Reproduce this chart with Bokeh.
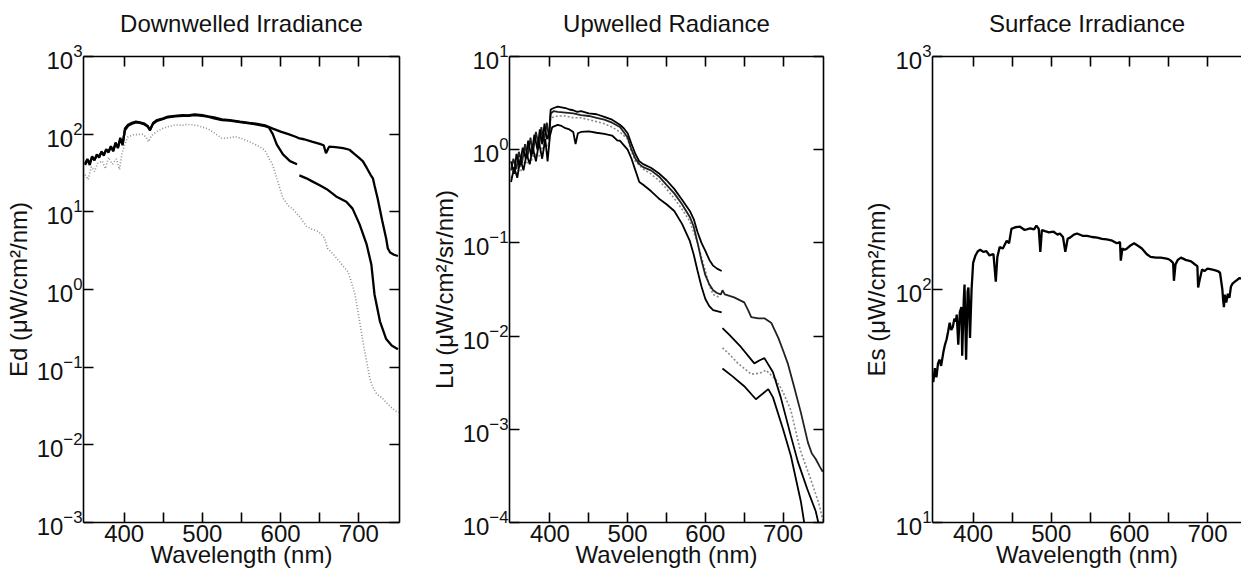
import numpy as np
from bokeh.plotting import figure
from bokeh.models import FixedTicker, LinearAxis, LogAxis
from bokeh.layouts import row
from bokeh.embed import file_html
from bokeh.resources import INLINE

nan = float("nan")

# ---------------- Panel 1: Downwelled irradiance Ed ----------------
ed_top_wl = [350, 353, 356, 359, 362, 365, 368, 371, 374, 377,
             380, 383, 386, 389, 392, 395, 398, 401, 405, 410,
             415, 420, 425, 430, 433, 437, 442, 450, 456, 465,
             475, 482, 490, 500, 507, 515, 525, 535, 548, 560,
             570, 580, 590, 600, 610, 620, 624, 630, 640, 650,
             655, 658, 662, 670, 680, 688, 695, 700, 705, 710,
             715, 718, 720, 724, 730, 735, 737, 740, 745, 750]
ed_top = [42, 48, 40, 52, 46, 55, 50, 60, 53, 64,
          58, 70, 60, 78, 66, 90, 72, 118, 132, 140,
          145, 142, 138, 128, 112, 140, 152, 160, 168, 172,
          176, 174, 180, 176, 170, 164, 155, 152, 145, 140,
          136, 130, 118, 108, 100, 92, 88, 86, 80, 75,
          72, 57, 69, 68, 66, 63, 55, 50, 45, 37,
          30, 27, 22, 15, 7.6, 4.5, 3.4, 3.0, 2.8, 2.7]

ed_mid_wl = [350, 353, 356, 359, 362, 365, 368, 371, 374, 377,
             380, 383, 386, 389, 392, 395, 398, 401, 405, 410,
             415, 420, 425, 430, 433, 437, 442, 450, 456, 465,
             475, 482, 490, 500, 507, 515, 525, 535, 548, 560,
             570, 580, 585, 590, 595, 603, 612, 621, 622.5, 624,
             633, 641, 650, 659, 671, 684, 692, 701, 710, 716,
             720, 727, 735, 742, 750]
ed_mid = [40, 46, 43, 50, 47, 53, 52, 58, 55, 62,
          60, 68, 62, 75, 68, 85, 75, 112, 128, 136,
          142, 140, 135, 125, 115, 136, 148, 157, 165, 170,
          172, 172, 176, 172, 168, 160, 152, 149, 143, 138,
          133, 127, 122, 100, 74, 55, 45, 41, nan, 29.5,
          27, 24.5, 22, 19.6, 15.8, 13.5, 11, 6.9, 3.8, 2.1,
          0.87, 0.39, 0.23, 0.19, 0.17]

ed_low_wl = [350, 354, 358, 362, 366, 372, 376, 380, 385, 390,
             394, 397, 400, 405, 412, 423, 428, 431, 435, 440,
             448, 456, 465, 475, 480, 487, 495, 507, 515, 525,
             535, 542, 550, 560, 573, 580, 586, 590, 595, 603,
             610, 616, 625, 633, 640, 648, 653, 656, 660, 668,
             675, 680, 686, 690, 695, 701, 707, 714, 718, 723,
             730, 735, 742, 748, 751]
ed_low = [30, 26, 38, 33, 42, 45, 36, 50, 41, 48,
          35, 55, 70, 93, 98, 100, 92, 80, 96, 105,
          117, 125, 132, 130, 134, 132, 128, 117, 104, 88,
          90, 93, 88, 80, 69, 62, 47, 40, 27, 15,
          12, 10.7, 8.5, 6.5, 6.0, 5.6, 5.0, 4.6, 3.4, 2.8,
          2.3, 2.0, 1.7, 1.3, 0.87, 0.39, 0.17, 0.072, 0.055, 0.045,
          0.04, 0.035, 0.03, 0.027, 0.026]

# ---------------- Panel 2: Upwelled radiance Lu ----------------
lu_1_wl = [350, 354, 357, 361, 365, 369, 372, 376, 380, 384,
           387, 390, 393, 396, 399, 401, 405, 410, 415, 420,
           425, 430, 435, 440, 450, 460, 470, 480, 490, 495,
           500, 505, 510, 515, 520, 530, 540, 550, 560, 570,
           580, 585, 590, 595, 600, 605, 610, 615, 621, 621.5,
           622, 630, 646, 663, 670, 676, 687, 697, 710, 719,
           731, 742, 748]
lu_1 = [0.75, 0.55, 0.9, 0.65, 1.05, 0.8, 1.25, 0.85, 1.45, 1.0,
        1.65, 1.15, 1.9, 1.3, 1.5, 2.7, 2.8, 2.9, 2.85, 2.8,
        2.7, 2.65, 2.55, 2.6, 2.45, 2.4, 2.25, 2.1, 1.85, 1.7,
        1.5, 1.15, 0.9, 0.75, 0.7, 0.64, 0.56, 0.47, 0.38, 0.29,
        0.22, 0.18, 0.13, 0.1, 0.082, 0.066, 0.057, 0.053, 0.05, nan,
        0.0122, 0.0105, 0.0076, 0.0051, 0.0055, 0.0058, 0.0041, 0.0022, 0.00085, 0.00045,
        0.00023, 0.000132, 0.00008]

lu_2_wl = [350, 353, 357, 360, 364, 368, 371, 375, 378, 382,
           386, 389, 392, 396, 399, 401, 405, 410, 420, 430,
           440, 450, 460, 470, 480, 490, 495, 500, 505, 510,
           515, 520, 530, 540, 550, 560, 570, 580, 585, 590,
           595, 600, 605, 610, 615, 620, 622, 625, 637, 650,
           655, 659, 668, 676, 685, 694, 700, 706, 714, 723,
           732, 737, 742, 747, 751]
lu_2 = [0.6, 0.8, 0.62, 0.95, 0.72, 1.15, 0.82, 1.35, 0.9, 1.55,
        1.05, 1.75, 1.2, 1.95, 1.3, 2.45, 2.6, 2.55, 2.5, 2.45,
        2.35, 2.3, 2.2, 2.1, 1.95, 1.75, 1.55, 1.35, 1.0, 0.8,
        0.7, 0.65, 0.6, 0.52, 0.42, 0.34, 0.26, 0.19, 0.15, 0.1,
        0.065, 0.045, 0.036, 0.031, 0.029, 0.028, 0.031, 0.028, 0.026, 0.023,
        0.019, 0.016, 0.0155, 0.0155, 0.0138, 0.0095, 0.007, 0.0051, 0.0029, 0.0015,
        0.00072, 0.00055, 0.00048, 0.0004, 0.00035]

lu_3_wl = [350, 356, 362, 368, 374, 380, 386, 392, 398, 401,
           410, 420, 430, 440, 450, 460, 470, 480, 490, 500,
           505, 510, 515, 520, 530, 540, 550, 560, 570, 580,
           590, 595, 600, 605, 610, 618, 619, 622, 630, 642,
           659, 670, 678, 691, 700, 710, 722, 735, 746, 752]
lu_3 = [0.5, 0.62, 0.58, 0.75, 0.7, 0.9, 0.85, 1.15, 1.1, 2.2,
        2.3, 2.3, 2.2, 2.2, 2.1, 2.0, 1.9, 1.75, 1.55, 1.3,
        0.95, 0.75, 0.68, 0.62, 0.55, 0.47, 0.38, 0.3, 0.23, 0.17,
        0.1, 0.07, 0.05, 0.035, 0.028, 0.026, nan, 0.0075, 0.0065, 0.0051,
        0.0039, 0.004, 0.0043, 0.0034, 0.0025, 0.0016, 0.0006, 0.0003, 0.00016, 0.0001]

lu_4_wl = [350, 354, 358, 362, 366, 370, 374, 378, 382, 386,
           390, 394, 397, 400, 403, 410, 415, 420, 425, 430,
           433, 436, 440, 450, 460, 470, 480, 487, 490, 495,
           500, 505, 510, 515, 520, 530, 540, 550, 560, 570,
           580, 585, 590, 595, 600, 605, 610, 621, 621.5, 622,
           635, 650, 665, 681, 687, 700, 710, 723, 729]
lu_4 = [0.45, 0.65, 0.5, 0.8, 0.6, 0.9, 0.7, 1.05, 0.75, 1.2,
        0.8, 1.3, 0.75, 1.4, 1.75, 1.85, 1.8, 1.7, 1.65, 1.55,
        1.15, 1.5, 1.55, 1.57, 1.52, 1.48, 1.42, 1.25, 1.25, 1.12,
        1.0, 0.8, 0.6, 0.45, 0.42, 0.36, 0.3, 0.26, 0.22, 0.16,
        0.105, 0.075, 0.05, 0.034, 0.025, 0.021, 0.019, 0.018, nan, 0.0045,
        0.0037, 0.0029, 0.0021, 0.0027, 0.0022, 0.001, 0.00052, 0.000166, 0.00008]

# ---------------- Panel 3: Surface irradiance Es ----------------
es_wl = [349, 351, 353, 355, 357, 359, 362, 364, 366, 368,
         370, 372, 374, 376, 378, 379, 381, 383, 385, 386,
         388, 389, 391, 393, 394, 396, 398, 400, 403, 406,
         409, 413, 417, 421, 426, 429, 431, 434, 438, 443,
         446, 449, 454, 460, 466, 473, 478, 481, 484, 486,
         488, 492, 497, 503, 508, 511, 515, 518, 521, 524,
         529, 533, 540, 546, 552, 559, 565, 571, 578, 584,
         588, 589, 591, 594, 597, 602, 606, 611, 616, 622,
         627, 634, 640, 646, 650, 653, 656, 657, 659, 662,
         666, 672, 679, 684, 687, 688, 690, 693, 696, 700,
         705, 709, 713, 716, 719, 720, 721, 722, 724, 726,
         728, 730, 732, 735, 738, 741, 744]
es = [40, 46, 42, 48, 50, 47, 54, 58, 61, 66,
      72, 67, 69, 75, 73, 78, 58, 80, 84, 52,
      90, 105, 50, 98, 102, 62, 100, 130, 140, 146,
      148, 145, 146, 140, 142, 108, 138, 152, 150, 162,
      158, 182, 185, 186, 180, 183, 181, 188, 182, 145,
      180, 178, 176, 177, 172, 174, 168, 145, 165, 167,
      172, 174, 170, 170, 168, 167, 165, 164, 162, 158,
      160, 133, 150, 148, 150, 155, 158, 154, 150, 142,
      138, 137, 137, 136, 135, 133, 130, 109, 128, 134,
      137, 134, 132, 128, 126, 102, 110, 122, 120, 123,
      122, 121, 120, 118, 100, 90, 84, 95, 88, 96,
      92, 103, 106, 108, 110, 112, 111]

x_major = [400, 500, 600, 700]
x_minor = [450, 550, 650]

FONT = "Liberation Sans"
TXT = "#111111"


def style_axis(ax, labels=True):
    ax.axis_line_color = "black"
    ax.axis_line_width = 1.6
    ax.major_tick_in = 10
    ax.major_tick_out = 0
    ax.minor_tick_in = 10
    ax.minor_tick_out = 0
    ax.major_tick_line_color = "black"
    ax.major_tick_line_width = 1.6
    ax.minor_tick_line_color = "black"
    ax.minor_tick_line_width = 1.6
    ax.major_label_text_font = FONT
    if labels:
        ax.major_label_text_color = TXT
        ax.major_label_text_font_size = "24px"
        ax.major_label_standoff = 1
    else:
        ax.major_label_text_color = None
        ax.major_label_text_font_size = "1px"
        ax.major_label_standoff = 0


def style_label(ax, text, standoff):
    ax.axis_label = text
    ax.axis_label_text_font = FONT
    ax.axis_label_text_font_size = "24px"
    ax.axis_label_text_font_style = "normal"
    ax.axis_label_text_color = TXT
    ax.axis_label_standoff = standoff


def make_panel(title, ylabel, x_end, y_lo, y_hi, y_ticks, width, left, right,
               show_right=True):
    p = figure(width=width, height=573, x_range=(348, x_end), y_range=(y_lo, y_hi),
               y_axis_type="log", output_backend="svg", toolbar_location=None,
               min_border_left=left, min_border_right=right,
               min_border_top=56, min_border_bottom=51,
               background_fill_color="white", border_fill_color="white")
    p.outline_line_color = None
    p.xgrid.visible = False
    p.ygrid.visible = False

    xt = FixedTicker(ticks=x_major, minor_ticks=x_minor)
    yt = FixedTicker(ticks=y_ticks, minor_ticks=[])

    xb = p.xaxis[0]
    xb.ticker = xt
    style_axis(xb)
    xb.major_label_standoff = 2
    style_label(xb, "Wavelength (nm)", -4)

    yl = p.yaxis[0]
    yl.ticker = yt
    style_axis(yl)
    style_label(yl, ylabel, 2)

    # top axis: inward ticks only; the panel title is its axis label
    xa = LinearAxis(ticker=FixedTicker(ticks=x_major, minor_ticks=x_minor))
    style_axis(xa, labels=False)
    style_label(xa, title, 20)
    p.add_layout(xa, "above")

    if show_right:
        yr = LogAxis(ticker=FixedTicker(ticks=y_ticks, minor_ticks=[]))
        style_axis(yr, labels=False)
        p.add_layout(yr, "right")
    return p


def arr(v):
    return np.array(v, dtype=float)


p1 = make_panel("Downwelled Irradiance", "Ed (\u03bcW/cm\u00b2/nm)", 752, 1e-3, 1e3,
                [1e-3, 1e-2, 1e-1, 1, 10, 100, 1000], 427, 83, 28)
p1.line(arr(ed_low_wl), arr(ed_low), line_color="#8f8f8f", line_width=1.6, line_dash="1 2")
p1.line(arr(ed_mid_wl), arr(ed_mid), line_color="black", line_width=2.3)
p1.line(arr(ed_top_wl), arr(ed_top), line_color="black", line_width=2.3)

p2 = make_panel("Upwelled Radiance", "Lu (\u03bcW/cm\u00b2/sr/nm)", 752, 1e-4, 1e1,
                [1e-4, 1e-3, 1e-2, 1e-1, 1, 10], 423, 82, 27)
p2.line(arr(lu_3_wl), arr(lu_3), line_color="#8a8a8a", line_width=1.6, line_dash="2 2")
p2.line(arr(lu_2_wl), arr(lu_2), line_color="#222222", line_width=1.8)
p2.line(arr(lu_1_wl), arr(lu_1), line_color="black", line_width=1.8)
p2.line(arr(lu_4_wl), arr(lu_4), line_color="black", line_width=1.8)

# the right edge of this panel is cut off by the page edge in the reference
p3 = make_panel("Surface Irradiance", "Es (\u03bcW/cm\u00b2/nm)", 743.5, 10, 1000,
                [10, 100, 1000], 391, 82, 0, show_right=False)
p3.line(arr(es_wl), arr(es), line_color="black", line_width=2.3)

layout = row(p1, p2, p3)
open("out.html", "w").write(file_html(layout, INLINE))
